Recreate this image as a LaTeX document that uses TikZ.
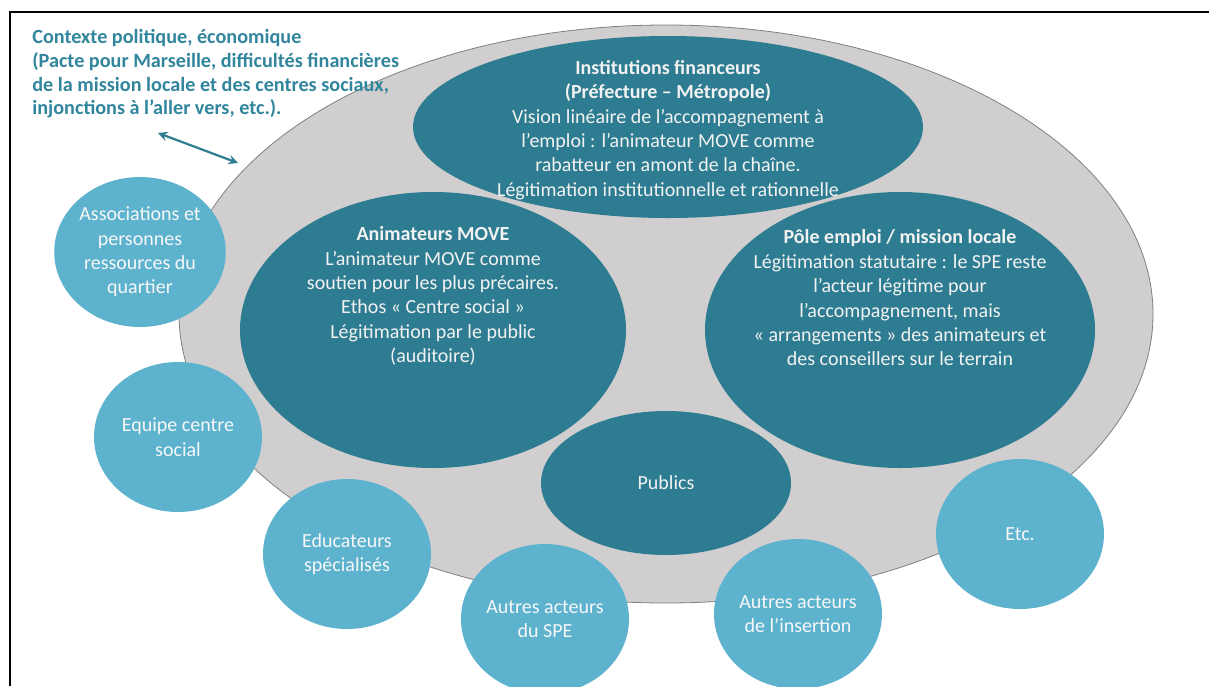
\documentclass[tikz,border=0pt]{standalone}
\usepackage{fontspec}
\setmainfont{Carlito}
\usetikzlibrary{shapes.geometric, arrows, positioning, calc}
\definecolor{tealdark}{RGB}{46,124,145}
\definecolor{tealtext}{RGB}{49,133,156}
\definecolor{teallight}{RGB}{93,179,206}
\definecolor{greyzone}{RGB}{208,206,206}

\begin{document}
\begin{tikzpicture}[x=0.5pt, y=-0.5pt,
  every node/.style={font=\fontsize{10}{12.2}\selectfont, align=center, inner sep=0pt},
  core/.style={ellipse, fill=tealdark},
  coretext/.style={text=white!95!black},
  actor/.style={ellipse, fill=teallight, text=white!97!black, minimum width=84pt, minimum height=75pt}]
\useasboundingbox (0,0) rectangle (1209,686);
% frame
\draw[line width=1.3pt] (10,686) -- (10,12) -- (1209,12);

% field
\node[draw=gray, fill=greyzone, ellipse, minimum width=487pt, minimum height=289pt] (zone) at (666,314) {};

% context
\node[anchor=west, align=left, text=tealtext, font=\fontsize{10.1}{11.8}\selectfont\bfseries] (ctx) at (32,74)
  {Contexte politique, économique\\(Pacte pour Marseille, difficultés financières\\de la mission locale et des centres sociaux,\\injonctions à l’aller vers, etc.).};

\coordinate (ctxend) at (158,133);
\coordinate (zoneend) at (238,163);
\draw[<->, >=stealth, line width=1.1pt, tealdark] (ctxend) -- (zoneend);

% main actors
\node[core, minimum width=255pt, minimum height=91pt] (inst) at (668,127) {};
\node[core, minimum width=193pt, minimum height=138pt] (anim) at (433,330) {};
\node[core, minimum width=195pt, minimum height=138pt] (pole) at (900,330) {};
\node[core, coretext, minimum width=125pt, minimum height=72pt] (publics) at (666,483) {Publics};

\node[coretext] (insttext) at ($(inst)+(0,3)$)
  {\textbf{Institutions financeurs}\\\textbf{(Préfecture – Métropole)}\\Vision linéaire de l’accompagnement à\\l’emploi : l’animateur MOVE comme\\rabatteur en amont de la chaîne.\\Légitimation institutionnelle et rationnelle};
\node[coretext] (animtext) at ($(anim)+(0,-34)$)
  {\textbf{Animateurs MOVE}\\L’animateur MOVE comme\\soutien pour les plus précaires.\\Ethos « Centre social »\\Légitimation par le public\\(auditoire)};
\node[coretext] (poletext) at ($(pole)+(0,-32)$)
  {\textbf{Pôle emploi / mission locale}\\Légitimation statutaire : le SPE reste\\l’acteur légitime pour\\l’accompagnement, mais\\« arrangements » des animateurs et\\des conseillers sur le terrain};

% other actors
\node[actor] (assoc) at (140,252) {Associations et\\personnes\\ressources du\\quartier};
\node[actor] (equipe) at (178,437) {Equipe centre\\social};
\node[actor] (educ) at (347,554) {Educateurs\\spécialisés};
\node[actor] (spe) at (545,619) {Autres acteurs\\du SPE};
\node[actor] (insert) at (798,614) {Autres acteurs\\de l’insertion};
\node[actor] (etc) at (1020,534) {Etc.};
\end{tikzpicture}
\end{document}
